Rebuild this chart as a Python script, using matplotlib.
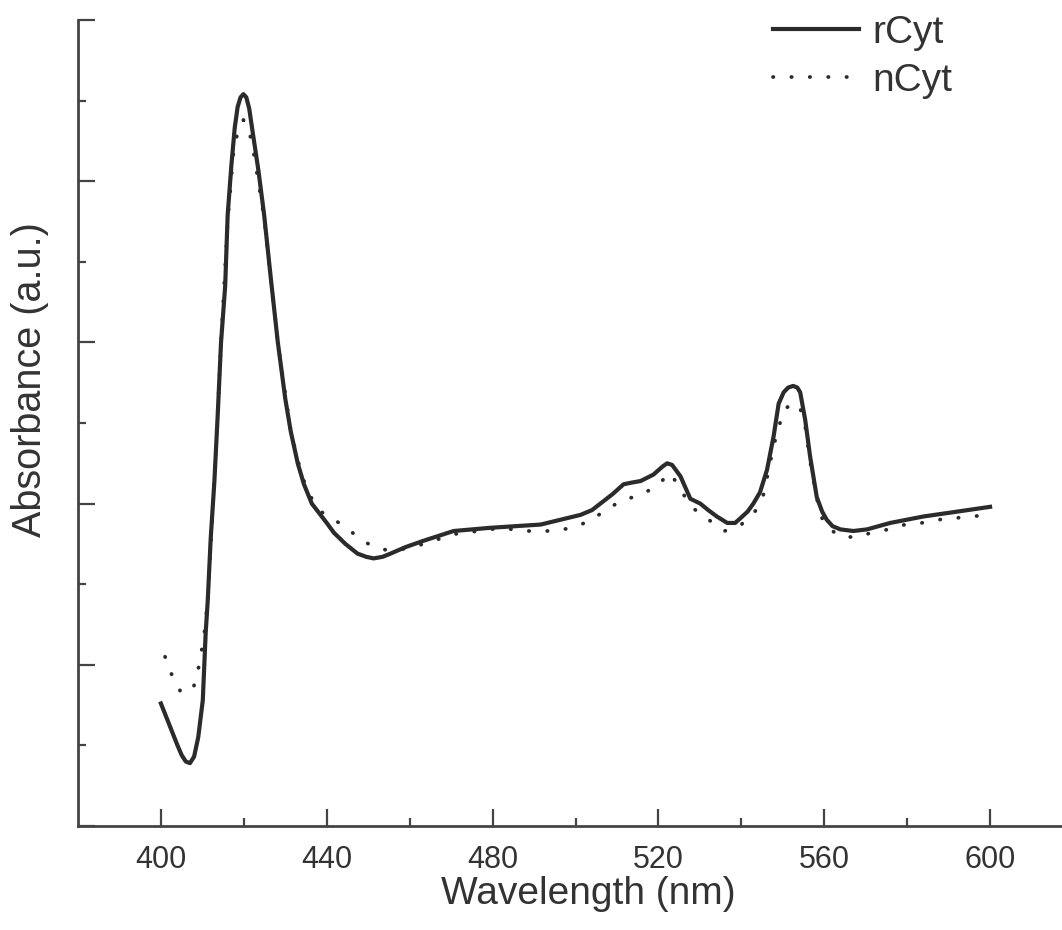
import numpy as np
import matplotlib
matplotlib.use('Agg')
import matplotlib.pyplot as plt
from matplotlib.ticker import MultipleLocator, NullFormatter

# rCyt (solid) - wavelength (nm) / absorbance (a.u.)
r_wl = [400, 402, 404, 405, 406, 407, 408, 409, 410.1, 410.8, 411.3, 412, 412.9,
        413.7, 414.5, 415.5, 416.1, 417, 417.8, 418.5, 419.2, 419.9, 420.6, 421.3,
        422.1, 423.5, 424.9, 426.5, 428.2, 430, 431.3, 433, 434.5, 436.4,
        438.5, 440, 441.7, 444.5, 447.4, 449.5, 451.3, 453.5, 455.4, 459, 463.4,
        470.6, 479.5, 491.6, 496.4, 501.2, 504, 506, 509, 511.6, 513.5, 515.7,
        518.8, 521, 522.1, 523.3, 525.3, 527.7, 530.1, 532, 534.1, 536.6, 538.5,
        539.8, 541.5, 542.9, 544.5, 546.2, 547.8, 549, 550.2, 551.3, 552.5, 553.5,
        554.2, 555.4, 556.6, 558.2, 559.5, 560.6, 562, 563.9, 567, 570.3, 575.9,
        583.9, 592, 600]
r_abs = [0.76, 0.63, 0.50, 0.44, 0.40, 0.39, 0.43, 0.55, 0.78, 1.20, 1.40, 1.78, 2.14,
         2.55, 3.0, 3.35, 3.79, 4.10, 4.33, 4.46, 4.52, 4.54, 4.52, 4.45,
         4.31, 4.07, 3.79, 3.40, 3.0, 2.65, 2.45, 2.25, 2.12, 2.0,
         1.93, 1.88, 1.82, 1.75, 1.69, 1.67, 1.66, 1.67, 1.69, 1.73, 1.77,
         1.83, 1.85, 1.87, 1.90, 1.93, 1.96, 2.00, 2.06, 2.12, 2.13, 2.14,
         2.18, 2.23, 2.25, 2.24, 2.17, 2.03, 2.00, 1.96, 1.92, 1.88, 1.88,
         1.91, 1.95, 2.00, 2.07, 2.21, 2.42, 2.62, 2.69, 2.72, 2.73, 2.72,
         2.69, 2.52, 2.29, 2.04, 1.95, 1.90, 1.86, 1.84, 1.83, 1.84, 1.88,
         1.92, 1.95, 1.98]

# nCyt (dotted)
n_wl = [401, 402.6, 404.6, 406, 407.6, 408.8, 409.5, 410.3, 410.7, 411.3, 412.9,
        414.5, 416.1, 417.5, 418.8, 419.9, 421, 422.1, 424.9, 428.2, 431.3, 434,
        436.4, 438.6, 443, 446.7, 450.6, 454.6, 459, 463.4, 470.6, 479.5, 482.7,
        486.7, 490.7, 494.7, 499.2, 503.2, 506.8, 511.1, 515.3, 519.1, 522.9,
        525.5, 527.9, 532.1, 536, 540, 543.6, 545.4, 547.8, 550.2, 552.2, 554,
        555.4, 556.6, 558.2, 559.8, 563.4, 567.5, 571.5, 575.5, 579.5, 583.5,
        587.5, 591.5, 595.5, 599.6]
n_abs = [1.05, 0.94, 0.84, 0.83, 0.84, 0.94, 1.05, 1.15, 1.26, 1.40, 2.14,
         3.0, 3.75, 4.18, 4.34, 4.38, 4.34, 4.22, 3.77, 3.0, 2.45, 2.17,
         2.03, 1.95, 1.88, 1.81, 1.74, 1.71, 1.72, 1.75, 1.81, 1.84, 1.85,
         1.83, 1.83, 1.83, 1.85, 1.89, 1.95, 2.02, 2.05, 2.10, 2.19,
         2.08, 1.98, 1.90, 1.83, 1.87, 1.96, 2.06, 2.36, 2.58, 2.62, 2.61,
         2.48, 2.26, 2.03, 1.88, 1.80, 1.79, 1.82, 1.84, 1.87, 1.88,
         1.90, 1.91, 1.92, 1.93]

x_ticks = [400, 440, 480, 520, 560, 600]

plt.rcParams['font.family'] = ['Liberation Sans', 'DejaVu Sans']

fig = plt.figure(figsize=(10.62, 9.3), dpi=100)
ax = fig.add_axes([78/1062, 104/930, 995/1062, 806/930])

ax.plot(r_wl, r_abs, color='#2b2b2b', lw=3.0, label='rCyt',
        solid_joinstyle='round')
ax.plot(n_wl, n_abs, color='#2b2b2b', lw=2.7, linestyle=(0, (0.1, 4.8)),
        dash_capstyle='round', label='nCyt')

ax.set_xlim(380, 620)
ax.set_ylim(0, 5)
ax.set_xticks(x_ticks)
ax.set_xticks([420, 460, 500, 540, 580], minor=True)
ax.yaxis.set_major_locator(MultipleLocator(1))
ax.yaxis.set_minor_locator(MultipleLocator(0.5))
ax.yaxis.set_major_formatter(NullFormatter())

for s in ['top', 'right']:
    ax.spines[s].set_visible(False)
for s in ['left', 'bottom']:
    ax.spines[s].set_linewidth(2.0)
    ax.spines[s].set_color('#444444')

ax.tick_params(which='major', direction='in', length=12, width=1.6,
               color='#444444', labelsize=22, labelcolor='#333333', pad=14)
ax.tick_params(which='minor', direction='in', length=6, width=1.6, color='#444444')

ax.set_xlabel('Wavelength (nm)', fontsize=28, color='#333333')
ax.set_ylabel('Absorbance (a.u.)', fontsize=28.5, color='#333333')
ax.xaxis.set_label_coords((588 - 78) / 995, -(894 - 826) / 806, transform=ax.transAxes)
ax.yaxis.set_label_coords(-(78 - 30) / 995, (826 - 380) / 806, transform=ax.transAxes)
ax.xaxis.label.set_va('center')
ax.yaxis.label.set_va('center')

ax.legend(loc='upper left', bbox_to_anchor=(773/1062, 1 - 15/930),
          bbox_transform=fig.transFigure, frameon=False, fontsize=28,
          handlelength=2.2, handletextpad=0.35, labelspacing=0.3,
          borderpad=0, borderaxespad=0, labelcolor='#333333')

fig.savefig('out.png', dpi=100)
